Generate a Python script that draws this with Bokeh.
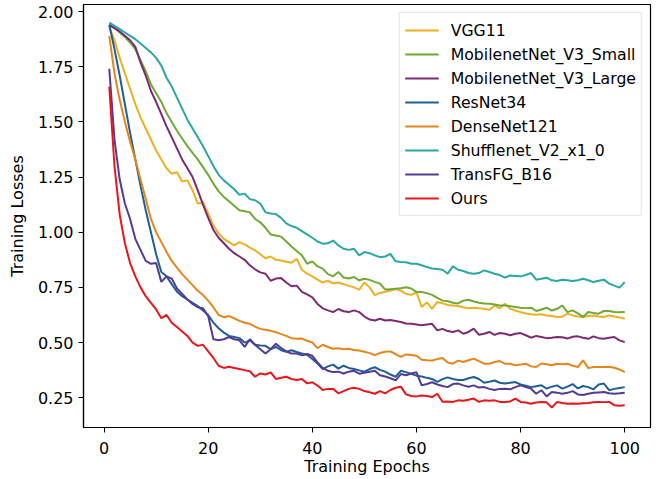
from bokeh.plotting import figure
from bokeh.models import FixedTicker, NumeralTickFormatter, Range1d, Legend, LegendItem
from bokeh.embed import file_html
from bokeh.resources import INLINE

epochs = list(range(1, 101))

vgg11 = [
1.93,1.87,1.79,1.72,1.65,1.58,1.52,1.47,1.42,1.37,
1.33,1.29,1.265,1.272,1.23,1.235,1.19,1.13,1.135,1.085,
1.03,0.995,0.97,0.955,0.94,0.955,0.945,0.93,0.918,0.90,
0.882,0.89,0.875,0.872,0.866,0.862,0.88,0.83,0.812,0.80,
0.785,0.772,0.78,0.768,0.772,0.765,0.757,0.75,0.74,0.772,
0.75,0.715,0.725,0.73,0.736,0.742,0.735,0.72,0.716,0.728,
0.661,0.682,0.653,0.684,0.678,0.67,0.668,0.666,0.66,0.655,
0.658,0.655,0.653,0.648,0.668,0.655,0.676,0.653,0.645,0.638,
0.632,0.628,0.626,0.628,0.623,0.62,0.616,0.617,0.631,0.623,
0.618,0.616,0.62,0.623,0.618,0.616,0.623,0.618,0.614,0.608]

mobilenet_small = [
1.94,1.925,1.905,1.885,1.86,1.83,1.78,1.73,1.67,1.63,
1.59,1.54,1.50,1.46,1.425,1.39,1.36,1.33,1.295,1.26,
1.22,1.185,1.16,1.14,1.12,1.10,1.095,1.09,1.06,1.045,
1.02,0.99,0.985,0.98,0.958,0.935,0.915,0.895,0.857,0.868,
0.845,0.835,0.81,0.80,0.82,0.795,0.79,0.797,0.782,0.789,
0.784,0.775,0.767,0.74,0.742,0.744,0.746,0.751,0.745,0.73,
0.729,0.724,0.716,0.703,0.69,0.687,0.68,0.677,0.69,0.694,
0.686,0.68,0.677,0.676,0.672,0.668,0.668,0.665,0.661,0.658,
0.656,0.658,0.643,0.65,0.658,0.645,0.653,0.668,0.638,0.646,
0.632,0.616,0.638,0.634,0.631,0.643,0.643,0.638,0.637,0.638]

mobilenet_large = [
1.94,1.925,1.91,1.89,1.87,1.84,1.77,1.71,1.64,1.59,
1.535,1.48,1.43,1.38,1.33,1.29,1.25,1.19,1.125,1.065,
1.01,0.975,0.95,0.925,0.905,0.89,0.875,0.85,0.832,0.818,
0.812,0.78,0.79,0.792,0.772,0.755,0.758,0.73,0.718,0.705,
0.675,0.655,0.646,0.638,0.652,0.642,0.638,0.646,0.638,0.618,
0.604,0.60,0.608,0.60,0.602,0.598,0.593,0.586,0.585,0.582,
0.578,0.582,0.585,0.555,0.562,0.552,0.548,0.555,0.54,0.548,
0.563,0.535,0.54,0.548,0.535,0.543,0.54,0.533,0.54,0.543,
0.533,0.522,0.53,0.525,0.52,0.522,0.525,0.524,0.518,0.526,
0.528,0.522,0.517,0.528,0.52,0.517,0.522,0.525,0.51,0.502]

resnet34 = [
1.94,1.83,1.71,1.58,1.45,1.33,1.21,1.10,1.00,0.90,
0.82,0.80,0.765,0.73,0.71,0.695,0.68,0.665,0.645,0.625,
0.59,0.565,0.545,0.53,0.525,0.52,0.50,0.51,0.49,0.487,
0.485,0.47,0.48,0.465,0.458,0.465,0.457,0.45,0.445,0.425,
0.405,0.38,0.392,0.40,0.382,0.395,0.385,0.38,0.374,0.368,
0.38,0.388,0.376,0.368,0.355,0.345,0.372,0.366,0.358,0.35,
0.346,0.34,0.335,0.322,0.334,0.342,0.335,0.33,0.33,0.338,
0.344,0.335,0.318,0.322,0.328,0.318,0.314,0.318,0.321,0.31,
0.304,0.298,0.302,0.306,0.291,0.3,0.306,0.291,0.3,0.312,
0.292,0.303,0.298,0.288,0.31,0.314,0.284,0.29,0.294,0.298]

densenet121 = [
1.89,1.72,1.60,1.50,1.41,1.33,1.24,1.15,1.06,1.0,
0.955,0.91,0.87,0.84,0.81,0.785,0.76,0.735,0.715,0.69,
0.66,0.625,0.615,0.62,0.61,0.598,0.59,0.585,0.572,0.562,
0.558,0.553,0.547,0.538,0.53,0.52,0.517,0.518,0.508,0.50,
0.475,0.49,0.48,0.472,0.474,0.47,0.472,0.466,0.464,0.458,
0.452,0.443,0.453,0.458,0.46,0.447,0.435,0.446,0.444,0.44,
0.422,0.42,0.419,0.425,0.43,0.41,0.404,0.418,0.412,0.42,
0.427,0.416,0.404,0.404,0.412,0.416,0.404,0.404,0.397,0.40,
0.404,0.392,0.389,0.405,0.402,0.397,0.404,0.402,0.404,0.395,
0.389,0.419,0.384,0.389,0.389,0.389,0.39,0.386,0.378,0.366]

shufflenet = [
1.95,1.935,1.92,1.905,1.89,1.875,1.855,1.835,1.815,1.79,
1.755,1.70,1.66,1.61,1.56,1.51,1.47,1.43,1.39,1.345,
1.30,1.26,1.235,1.215,1.195,1.17,1.175,1.15,1.145,1.13,
1.09,1.085,1.082,1.065,1.04,1.028,1.02,1.005,0.99,0.975,
0.958,0.948,0.95,0.962,0.94,0.925,0.92,0.925,0.895,0.91,
0.905,0.895,0.887,0.89,0.902,0.868,0.865,0.864,0.857,0.857,
0.85,0.842,0.836,0.833,0.83,0.812,0.845,0.83,0.824,0.815,
0.812,0.815,0.827,0.82,0.812,0.806,0.794,0.804,0.802,0.8,
0.806,0.815,0.785,0.789,0.794,0.782,0.779,0.785,0.782,0.779,
0.782,0.789,0.782,0.774,0.78,0.785,0.767,0.758,0.749,0.774]

transfg = [
1.74,1.42,1.24,1.13,1.06,0.97,0.92,0.87,0.857,0.86,
0.775,0.80,0.79,0.745,0.72,0.695,0.675,0.66,0.655,0.62,
0.515,0.51,0.515,0.525,0.515,0.51,0.48,0.515,0.49,0.47,
0.45,0.47,0.495,0.475,0.46,0.45,0.45,0.442,0.448,0.44,
0.41,0.385,0.372,0.366,0.368,0.36,0.368,0.372,0.359,0.363,
0.368,0.372,0.352,0.346,0.338,0.329,0.357,0.352,0.36,0.365,
0.306,0.312,0.32,0.31,0.303,0.298,0.312,0.314,0.306,0.3,
0.306,0.296,0.298,0.29,0.285,0.29,0.291,0.288,0.298,0.306,
0.298,0.291,0.268,0.284,0.256,0.276,0.273,0.268,0.272,0.28,
0.265,0.262,0.268,0.272,0.274,0.276,0.27,0.268,0.27,0.273]

ours = [
1.66,1.30,1.08,0.95,0.86,0.80,0.75,0.71,0.68,0.65,
0.61,0.625,0.59,0.57,0.55,0.53,0.50,0.485,0.49,0.46,
0.43,0.395,0.385,0.39,0.385,0.38,0.375,0.37,0.345,0.36,
0.355,0.365,0.335,0.34,0.345,0.335,0.33,0.335,0.315,0.32,
0.305,0.285,0.29,0.29,0.27,0.28,0.29,0.295,0.29,0.28,
0.275,0.268,0.28,0.27,0.285,0.295,0.3,0.265,0.258,0.256,
0.26,0.258,0.253,0.268,0.232,0.233,0.231,0.238,0.236,0.241,
0.246,0.231,0.238,0.236,0.238,0.231,0.231,0.233,0.246,0.231,
0.228,0.223,0.228,0.231,0.229,0.205,0.231,0.226,0.223,0.224,
0.223,0.225,0.226,0.229,0.231,0.23,0.231,0.216,0.214,0.216]

series_names = ["VGG11", "MobilenetNet_V3_Small", "MobilenetNet_V3_Large", "ResNet34",
                "DenseNet121", "Shufflenet_V2_x1_0", "TransFG_B16", "Ours"]
series_values = [vgg11, mobilenet_small, mobilenet_large, resnet34,
                 densenet121, shufflenet, transfg, ours]
series_colors = ["#EDB120", "#6FAA35", "#7E2A72", "#1D5F96",
                 "#E4861C", "#2BA6A6", "#553A94", "#E8161B"]

y_ticks = [0.25, 0.50, 0.75, 1.00, 1.25, 1.50, 1.75, 2.00]
x_ticks = [0, 20, 40, 60, 80, 100]

FONT = "DejaVu Sans"

p = figure(width=666, height=479, output_backend="svg", toolbar_location=None,
           x_range=Range1d(-3.95, 104.95), y_range=Range1d(0.115, 2.032),
           min_border_left=83, min_border_right=16, min_border_top=4, min_border_bottom=52)

p.background_fill_color = "white"
p.border_fill_color = "white"
p.outline_line_color = "black"
p.outline_line_width = 1.2
p.xgrid.visible = False
p.ygrid.visible = False

items = []
for name, vals, col in zip(series_names, series_values, series_colors):
    r = p.line(epochs, vals, line_color=col, line_width=2)
    items.append(LegendItem(label=name, renderers=[r]))

legend = Legend(items=items, location="top_right")
legend.label_text_font = FONT
legend.label_text_font_size = "15.7px"
legend.label_text_color = "black"
legend.glyph_width = 34
legend.glyph_height = 24
legend.label_height = 24
legend.label_standoff = 12
legend.spacing = 0
legend.padding = 5
legend.margin = 8
legend.border_line_color = "#cccccc"
legend.border_line_width = 1
legend.background_fill_alpha = 0.85
p.add_layout(legend)

p.xaxis.ticker = FixedTicker(ticks=x_ticks)
p.yaxis.ticker = FixedTicker(ticks=y_ticks)
p.yaxis.formatter = NumeralTickFormatter(format="0.00")

for ax in (p.xaxis[0], p.yaxis[0]):
    ax.axis_line_color = "black"
    ax.axis_line_width = 1.2
    ax.major_tick_line_color = "black"
    ax.major_tick_out = 5
    ax.major_tick_in = 0
    ax.minor_tick_line_color = None
    ax.major_label_text_font = FONT
    ax.major_label_text_font_size = "16px"
    ax.major_label_text_color = "black"
    ax.axis_label_text_font = FONT
    ax.axis_label_text_font_size = "16px"
    ax.axis_label_text_font_style = "normal"
    ax.axis_label_text_color = "black"

p.xaxis.major_label_standoff = 9
p.yaxis.major_label_standoff = 5
p.xaxis.axis_label_standoff = 0
p.yaxis.axis_label_standoff = 8

p.xaxis.axis_label = "Training Epochs"
p.yaxis.axis_label = "Training Losses"

open("out.html", "w").write(file_html(p, INLINE))
